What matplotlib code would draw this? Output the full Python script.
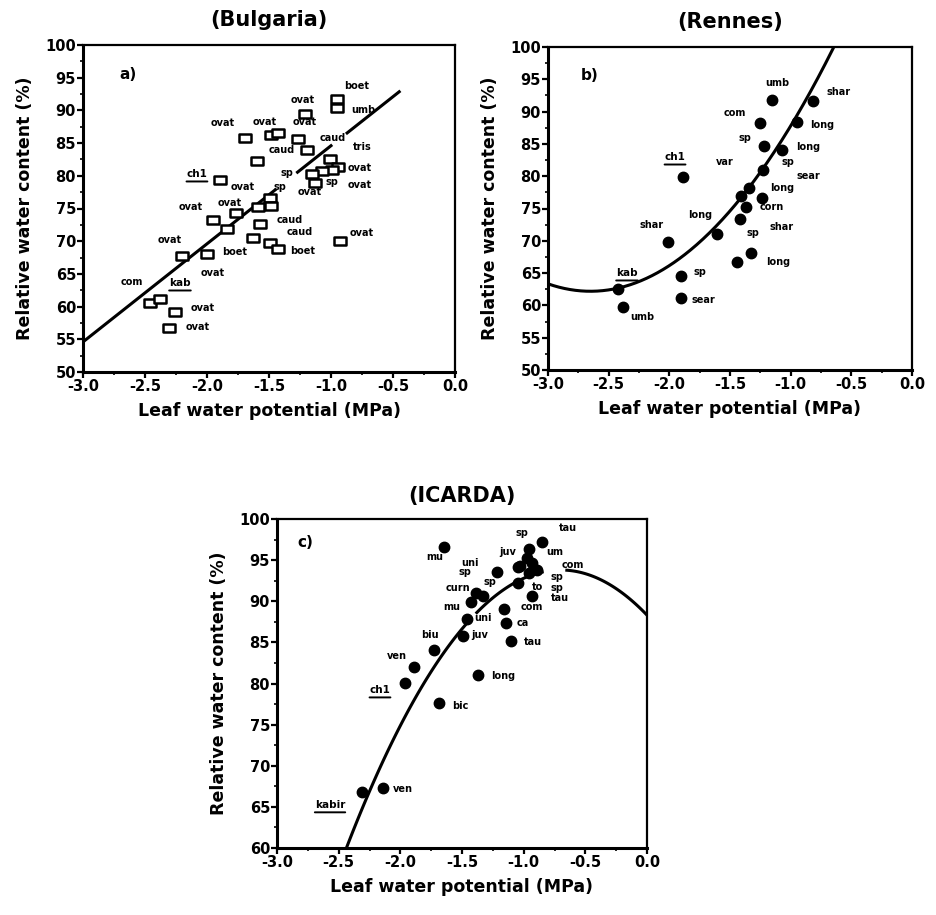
import numpy as np
import matplotlib
matplotlib.use("Agg")
import matplotlib.pyplot as plt
from matplotlib.path import Path
from matplotlib.ticker import MultipleLocator, FormatStrFormatter

plt.rcParams['font.family'] = ['DejaVu Sans']
plt.rcParams['axes.unicode_minus'] = False

# ---------------- data: panel a (Bulgaria) ----------------
a_x = [-1.895, -1.95, -1.84, -2.20, -2.00, -2.46, -2.38, -2.26, -2.31,
       -0.95, -0.95, -1.21, -1.69, -1.48, -1.43, -1.27, -1.19, -1.60,
       -1.01, -0.94, -0.99, -1.07, -1.15, -1.13, -1.49, -1.48, -1.59,
       -1.77, -1.57, -1.63, -1.49, -1.43, -0.93]
a_y = [79.4, 73.2, 71.8, 67.8, 68.0, 60.6, 61.2, 59.2, 56.8,
       91.8, 90.4, 89.5, 85.8, 86.2, 86.6, 85.7, 84.0, 82.2,
       82.5, 81.4, 80.9, 80.8, 80.3, 78.9, 76.6, 75.4, 75.2,
       74.3, 72.6, 70.5, 69.8, 68.8, 70.0]
a_labels = [("ovat", -2.129, 75.23), ("ovat", -2.298, 70.18), ("ovat", -1.952, 65.14),
            ("com", -2.605, 63.76), ("ovat", -2.032, 59.79), ("ovat", -2.073, 56.88),
            ("boet", -0.790, 93.73), ("umb", -0.742, 90.06), ("ovat", -1.226, 91.59),
            ("ovat", -1.871, 88.07), ("ovat", -1.532, 88.23), ("ovat", -1.210, 88.23),
            ("caud", -0.984, 85.78), ("caud", -1.395, 83.94), ("tris", -0.750, 84.40),
            ("ovat", -0.766, 81.19), ("ovat", -0.766, 78.59), ("sp", -1.355, 80.43),
            ("sp", -0.992, 79.05), ("ovat", -1.169, 77.52), ("ovat", -1.710, 78.29),
            ("sp", -1.411, 78.29), ("ovat", -1.815, 75.84), ("caud", -1.331, 73.24),
            ("caud", -1.250, 71.41), ("boet", -1.774, 68.35), ("boet", -1.226, 68.50),
            ("ovat", -0.750, 71.25)]
a_under = [("ch1", -2.081, 80.28), ("kab", -2.218, 63.61)]
a_slope, a_icept = 15.0, 99.6
a_segments = [(-3.0, -1.45), (-1.27, -1.0), (-0.87, -0.45)]

# ---------------- data: panel b (Rennes) ----------------
b_x = [-1.153, -0.815, -1.25, -0.95, -1.22, -1.07, -1.23, -1.89, -1.34,
       -1.41, -1.24, -1.37, -1.42, -1.61, -2.01, -1.33, -1.44, -1.90,
       -1.90, -2.42, -2.38]
b_y = [91.8, 91.7, 88.3, 88.4, 84.7, 84.1, 81.0, 79.9, 78.2,
       76.9, 76.7, 75.2, 73.3, 71.0, 69.8, 68.1, 66.7, 64.5,
       61.1, 62.5, 59.7]
b_labels = [("umb", -1.112, 94.43), ("shar", -0.609, 93.03), ("com", -1.458, 89.78),
            ("long", -0.741, 87.93), ("sp", -1.376, 85.91), ("long", -0.857, 84.52),
            ("sp", -1.021, 82.20), ("sear", -0.857, 80.03), ("var", -1.541, 82.20),
            ("long", -1.071, 78.17), ("corn", -1.153, 75.23), ("shar", -1.071, 72.14),
            ("sp", -1.310, 71.21), ("long", -1.747, 74.0), ("shar", -2.143, 72.45),
            ("long", -1.104, 66.72), ("sp", -1.747, 65.17), ("sear", -1.722, 60.84),
            ("umb", -2.225, 58.20)]
b_under = [("ch1", -1.953, 82.97), ("kab", -2.349, 65.02)]
b_coef = (9.4, 49.82, 128.2)   # y = c2 x^2 + c1 x + c0

# ---------------- data: panel c (ICARDA) ----------------
c_x = [-2.31, -2.14, -1.69, -1.37, -1.96, -1.89, -1.73, -1.49, -1.46,
       -1.10, -1.14, -1.16, -0.93, -1.43, -1.39, -1.33, -1.22, -1.05,
       -1.03, -0.96, -0.89, -0.93, -1.65, -0.85, -0.96, -0.97, -1.05]
c_y = [66.8, 67.3, 77.6, 81.0, 80.1, 82.0, 84.1, 85.8, 87.8,
       85.2, 87.4, 89.1, 90.6, 89.9, 91.0, 90.6, 93.6, 92.2,
       94.3, 93.4, 93.8, 94.7, 96.6, 97.2, 96.4, 95.3, 94.2]
c_labels = [("ven", -1.978, 67.19), ("bic", -1.516, 77.28), ("long", -1.167, 80.92),
            ("ven", -2.027, 83.35), ("biu", -1.759, 85.91), ("juv", -1.354, 85.91),
            ("uni", -1.329, 87.97), ("tau", -0.924, 85.05), ("ca", -1.005, 87.36),
            ("com", -0.932, 89.31), ("tau", -0.705, 90.40), ("sp", -0.729, 91.62),
            ("sp", -0.729, 92.95), ("com", -0.599, 94.41), ("mu", -1.581, 89.31),
            ("curn", -1.532, 91.62), ("sp", -1.273, 92.34), ("sp", -1.475, 93.56),
            ("uni", -1.435, 94.65), ("to", -0.891, 91.74), ("mu", -1.719, 95.38),
            ("tau", -0.640, 98.91), ("sp", -1.013, 98.30), ("juv", -1.127, 95.99),
            ("um", -0.745, 95.99)]
c_under = [("ch1", -2.165, 79.22), ("kabir", -2.570, 65.25)]
c_peak_x, c_peak_y, c_curv = -0.7, 93.8, 11.2
c_segments = [(-2.445, -1.47), (-1.38, -0.85), (-0.65, 0.0)]

x_ticks = [-3.0, -2.5, -2.0, -1.5, -1.0, -0.5, 0.0]

fig = plt.figure(figsize=(9.36, 9.15), dpi=100)
W, H = 936, 915

def make_ax(left, right, top, bottom):
    return fig.add_axes([left / W, 1 - bottom / H, (right - left) / W, (bottom - top) / H])

def style(ax, ymin, ymax, title, tag, tagpos, ylab_pad, tpad):
    ax.set_xlim(-3.0, 0.0)
    ax.set_ylim(ymin, ymax)
    ax.set_xticks(x_ticks)
    ax.xaxis.set_major_formatter(FormatStrFormatter('%.1f'))
    ax.yaxis.set_major_locator(MultipleLocator(5))
    ax.xaxis.set_minor_locator(MultipleLocator(0.25))
    ax.yaxis.set_minor_locator(MultipleLocator(2.5))
    ax.tick_params(which='major', direction='out', length=4, width=1.6,
                   labelsize=10.5, pad=1)
    ax.tick_params(which='minor', direction='out', length=2, width=1.2)
    for lab in ax.get_xticklabels() + ax.get_yticklabels():
        lab.set_fontweight('bold')
    for s in ['left', 'bottom']:
        ax.spines[s].set_linewidth(2.2)
    for s in ['top', 'right']:
        ax.spines[s].set_linewidth(1.6)
    ax.set_xlabel('Leaf water potential (MPa)', fontsize=12.5, fontweight='bold', labelpad=6)
    ax.set_ylabel('Relative water content (%)', fontsize=12.5, fontweight='bold', labelpad=ylab_pad)
    ax.set_title(title, fontsize=15, fontweight='bold', pad=tpad)
    ax.text(tagpos[0], tagpos[1], tag, transform=ax.transAxes, fontsize=11,
            fontweight='bold', ha='center', va='center')

def put_labels(ax, labels, under):
    for t, x, y in labels:
        ax.text(x, y, t, fontsize=7, fontweight='bold', ha='center', va='center')
    for t, x, y in under:
        txt = ax.text(x, y, t, fontsize=7.5, fontweight='bold', ha='center', va='center')
        ax.annotate('', xy=(0, -0.25), xycoords=txt, xytext=(1, -0.25),
                    textcoords=txt,
                    arrowprops=dict(arrowstyle='-', lw=1.4, color='black',
                                    shrinkA=0, shrinkB=0))

rect = Path([(-1.35, -1), (1.35, -1), (1.35, 1), (-1.35, 1), (-1.35, -1)],
            [Path.MOVETO, Path.LINETO, Path.LINETO, Path.LINETO, Path.CLOSEPOLY])

# ---- panel a ----
ax_a = make_ax(83, 455, 45, 372)
style(ax_a, 50, 100, '(Bulgaria)', 'a)', (0.12, 0.91), 8, 14)
for x0, x1 in a_segments:
    xs = np.linspace(x0, x1, 50)
    ax_a.plot(xs, a_icept + a_slope * xs, color='black', lw=2.2, zorder=2)
ax_a.plot(a_x, a_y, linestyle='none', marker=rect, markersize=8,
          markerfacecolor='white', markeredgecolor='black', markeredgewidth=1.8, zorder=3)
put_labels(ax_a, a_labels, a_under)

# ---- panel b ----
ax_b = make_ax(548, 912, 47, 370)
style(ax_b, 50, 100, '(Rennes)', 'b)', (0.115, 0.913), 8, 14)
xs = np.linspace(-3.0, 0.0, 400)
ys = b_coef[0] * xs ** 2 + b_coef[1] * xs + b_coef[2]
ys = np.where(ys <= 100, ys, np.nan)
ax_b.plot(xs, ys, color='black', lw=2.2, zorder=2)
ax_b.plot(b_x, b_y, linestyle='none', marker='o', markersize=7.5,
          color='black', zorder=3)
put_labels(ax_b, b_labels, b_under)

# ---- panel c ----
ax_c = make_ax(277, 647, 519, 848)
style(ax_c, 60, 100, '(ICARDA)', 'c)', (0.076, 0.93), 8, 12)
for x0, x1 in c_segments:
    xs = np.linspace(x0, x1, 100)
    ax_c.plot(xs, c_peak_y - c_curv * (xs - c_peak_x) ** 2, color='black', lw=2.2, zorder=2)
ax_c.plot(c_x, c_y, linestyle='none', marker='o', markersize=7.5,
          color='black', zorder=3)
put_labels(ax_c, c_labels, c_under)

fig.savefig('out.png', dpi=100, facecolor='white')
